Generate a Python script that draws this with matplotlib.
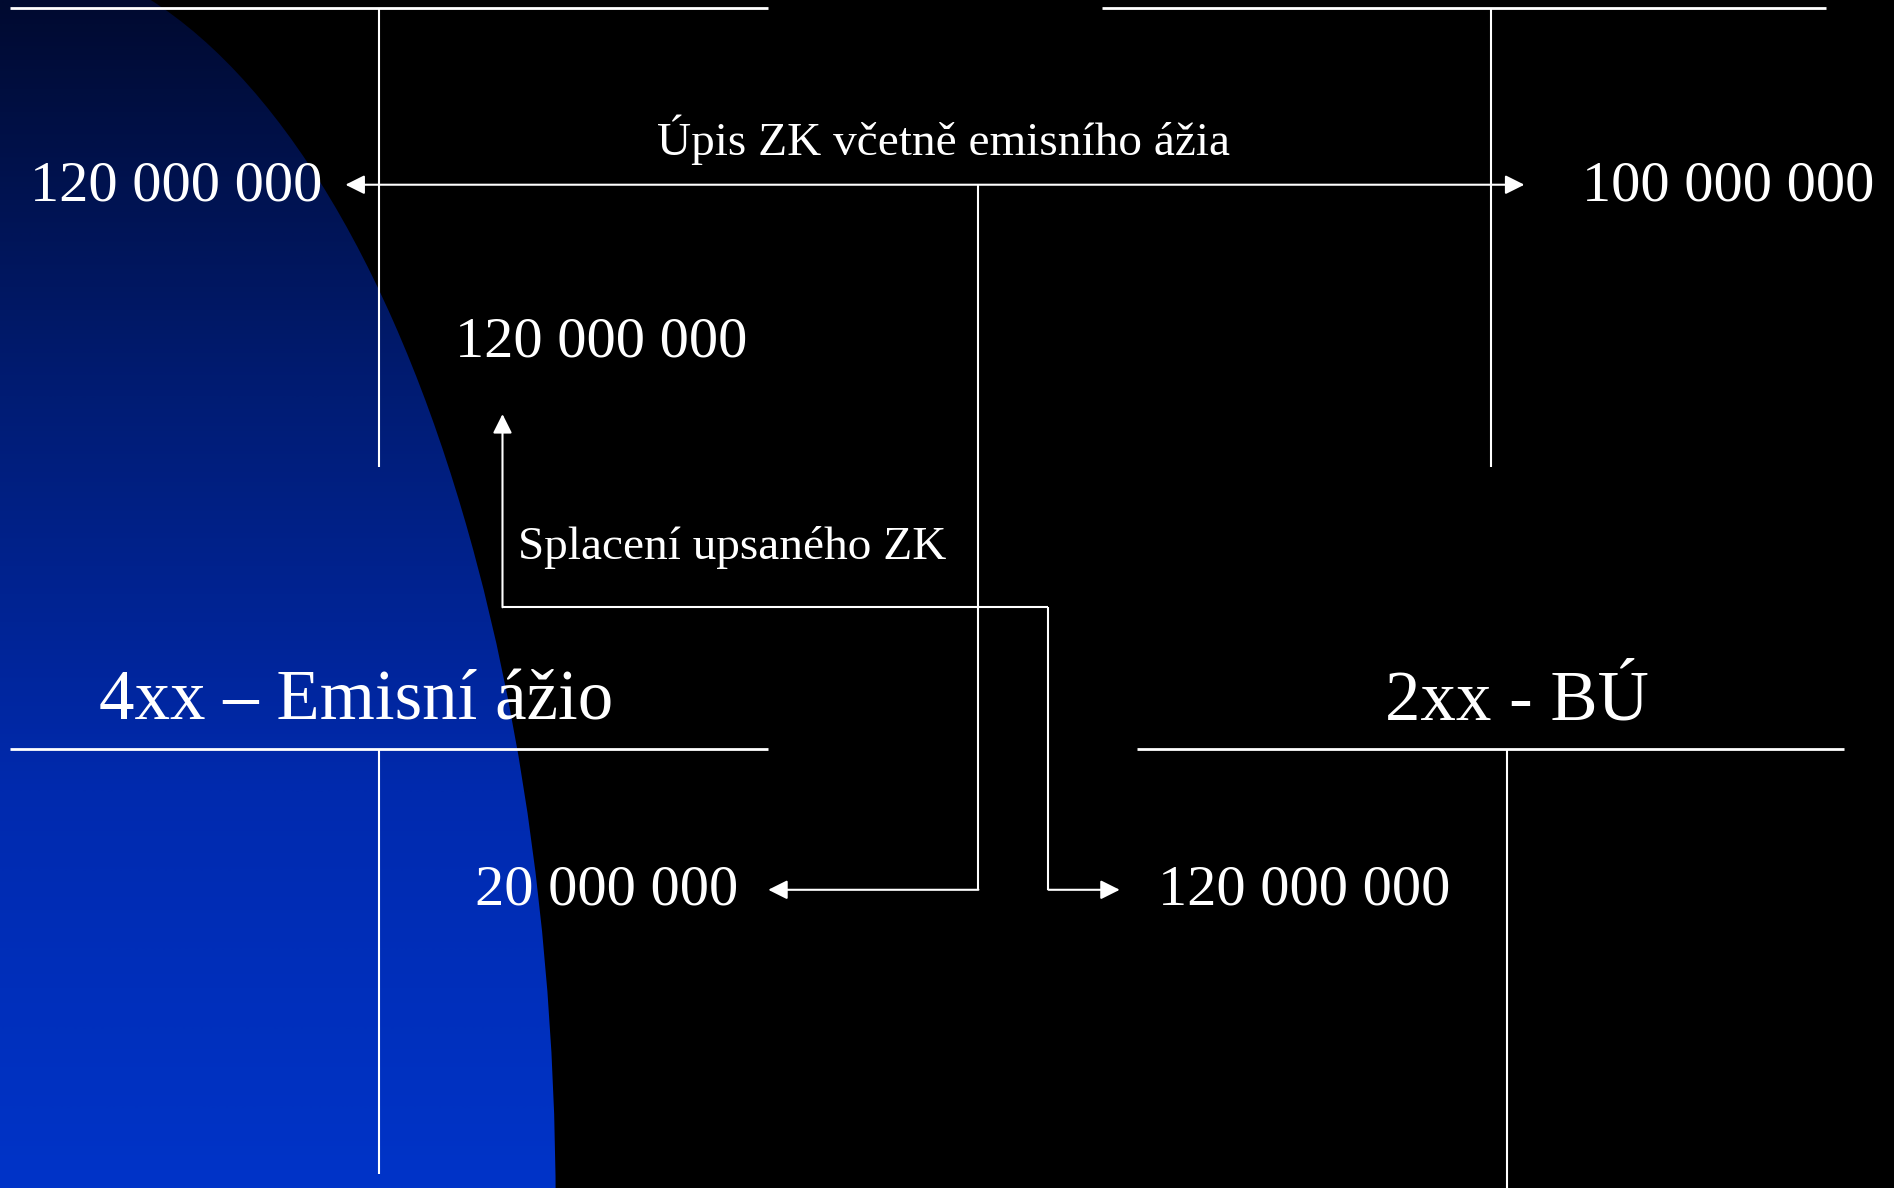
import numpy as np
import matplotlib
matplotlib.use("Agg")
import matplotlib.pyplot as plt
from matplotlib.colors import LinearSegmentedColormap
from matplotlib.patches import Ellipse

# ---- content ----
account_titles = ["4xx – Emisní ážio", "2xx - BÚ"]
flow_labels = ["Úpis ZK včetně emisního ážia", "Splacení upsaného ZK"]
amounts_top = ["120 000 000", "100 000 000", "120 000 000"]
amounts_bottom = ["20 000 000", "120 000 000"]

W, H = 1568, 984  # layout coordinate space (matches reference proportions)

fig = plt.figure(figsize=(18.94, 11.88), dpi=100, facecolor="black")
ax = fig.add_axes([0, 0, 1, 1])
ax.set_facecolor("black")

# ---- blue gradient background shape ----
cmap = LinearSegmentedColormap.from_list(
    "bg", ["#000a30", "#001c74", "#002aae", "#0034c8"])
grad = np.linspace(0, 1, 512).reshape(-1, 1)
im = ax.imshow(grad, cmap=cmap, extent=[0, 480, H, 0], aspect="auto",
               interpolation="bilinear", zorder=0)
ell = Ellipse((0, 1000), width=2 * 460, height=2 * 1039,
              transform=ax.transData, facecolor="none", edgecolor="none")
ax.add_patch(ell)
im.set_clip_path(ell)

ax.set_xlim(0, W)
ax.set_ylim(H, 0)
ax.axis("off")

LW = 1.5
WHITE = "white"
SERIF = ["Liberation Serif", "DejaVu Serif"]


def seg(xs, ys, lw=LW):
    ax.plot(xs, ys, color=WHITE, lw=lw, solid_capstyle="butt", zorder=3)


def arrow(start, end, style="-|>"):
    ax.annotate("", xy=end, xytext=start,
                arrowprops=dict(arrowstyle=style + ",head_length=0.58,head_width=0.29",
                                color=WHITE, lw=LW, shrinkA=0, shrinkB=0,
                                mutation_scale=20),
                zorder=4)


# ---- T accounts ----
seg([8, 636], [7, 7], lw=2)
seg([314, 314], [7, 387])
seg([912, 1512], [7, 7], lw=2)
seg([1234, 1234], [7, 387])
seg([8, 636], [620, 620], lw=2)
seg([314, 314], [620, 972])
seg([941, 1527], [620, 620], lw=2)
seg([1248, 1248], [620, 984])

# ---- flow 1: subscription ----
arrow((286, 153), (1262, 153), style="<|-|>")
seg([810, 810], [153, 737])
arrow((810, 737), (636, 737))

# ---- flow 2: payment ----
seg([868, 868], [737, 503])
seg([868, 416], [503, 503])
arrow((416, 503), (416, 343))
arrow((868, 737), (927, 737))

# ---- texts ----
def txt(x, y, s, size):
    ax.text(x, y, s, color=WHITE, fontsize=size, family=SERIF,
            ha="center", va="baseline", zorder=5)

txt(781, 128, flow_labels[0], 34)
txt(606, 463, flow_labels[1], 34)

txt(146, 166, amounts_top[0], 42)
txt(1431, 166, amounts_top[1], 42)
txt(498, 295, amounts_top[2], 42)

txt(295, 596, account_titles[0], 51)
txt(1256, 596, account_titles[1], 51)

txt(502, 749, amounts_bottom[0], 42)
txt(1080, 749, amounts_bottom[1], 42)

fig.savefig("out.png", dpi=100, facecolor="black")
